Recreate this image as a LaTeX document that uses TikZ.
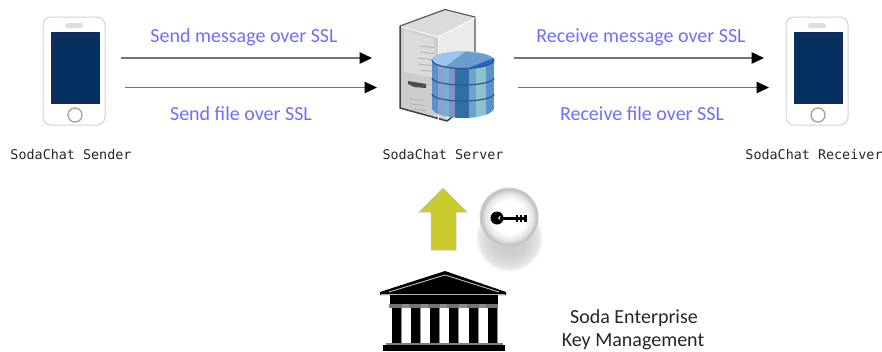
\documentclass[tikz,border=0pt]{standalone}
\usepackage{fontspec}
\setmainfont{Carlito}
\newfontfamily\capfont{DejaVu Sans Mono}
\usetikzlibrary{arrows.meta}
\definecolor{labelblue}{HTML}{6F6FFF}
\definecolor{screenblue}{HTML}{03305F}
\definecolor{phoneedge}{HTML}{D2D4D4}
\definecolor{olivey}{HTML}{C9CB2F}
\definecolor{dbtop}{HTML}{9CC4EC}
\definecolor{dbmid}{HTML}{6A9CCC}
\definecolor{dbwedge}{HTML}{2A62C8}
\definecolor{dbline}{HTML}{2F5590}
\pgfdeclareradialshading{ballshade}{\pgfpoint{0bp}{0bp}}{
  color(0bp)=(white); color(14bp)=(white); color(20bp)=(white!90!black);
  color(24bp)=(white!74!black); color(25bp)=(white!84!black); color(50bp)=(white!84!black)}
\pgfdeclareradialshading{shadowshade}{\pgfpoint{0bp}{0bp}}{
  color(0bp)=(white!78!black); color(14bp)=(white!82!black); color(22bp)=(white!90!black);
  color(25bp)=(white); color(50bp)=(white)}
\tikzset{
  msgtext/.style={font=\fontsize{20}{22}\selectfont, text=labelblue, inner sep=0pt},
  captext/.style={font=\capfont\fontsize{13.4}{15}\selectfont, text=black!85, inner sep=0pt},
  plaintext/.style={font=\fontsize{20}{22}\selectfont, text=black!85, inner sep=0pt},
  linkline/.style={draw=black!55, line width=1.4pt, -{Triangle[length=12.5pt,width=11.5pt,color=black]}},
  phonebody/.style={draw=phoneedge, fill=white, line width=1pt, rounded corners=8pt},
  columnbar/.style={fill=black},
  dbrim/.style={draw=dbline, line width=1.2pt},
}
\newcommand{\phoneat}[1]{%
  \begin{scope}[shift={(#1,0)}]
    \draw[phonebody] (0,17) rectangle (62,125);
    \fill[screenblue] (7.5,32) rectangle (57,104);
    \draw[draw=purple!18!screenblue, line width=.5pt] (9,36) rectangle (54,102);
    \fill[white!87!black, rounded corners=2.5pt] (22,23) rectangle (40,28);
    \draw[draw=black!35, line width=1.4pt, fill=white] (32,115) circle (7);
  \end{scope}}
\begin{document}
\begin{tikzpicture}[x=1pt,y=-1pt]
\useasboundingbox (0,0) rectangle (882,351);
% phones
\phoneat{43}
\phoneat{786}
\node[captext] (sender) at (71,155) {SodaChat Sender};
\node[captext] (server) at (443,155) {SodaChat Server};
\node[captext] (receiver) at (814,155) {SodaChat Receiver};
% server tower
\fill[white!86!black] (400,26) -- (445,9.5) -- (475,17) -- (438,37) -- cycle;
\fill[white!80!black] (400,26) -- (438,37) -- (447,121) -- (400,108) -- cycle;
\fill[white!86!black] (404,30) -- (434,39) -- (436,78) -- (404,72) -- cycle;
\fill[white!92!black] (438,37) -- (475,17) -- (475,100) -- (447,121) -- cycle;
\draw[black!65, line width=1.2pt, line join=round] (400,26) -- (445,9.5) -- (475,17) -- (475,60);
\draw[black!75, line width=1.5pt, line join=round] (400,26) -- (400,108) -- (447,121) -- (456,114);
\draw[white!97!black, line width=1pt] (401,27) -- (438,37) -- (475,18);
\draw[white!97!black, line width=.8pt] (438,37) -- (438,121);
\fill[black!70] (408,81) -- (426,84) -- (426,88) -- (414,87) -- (408,84) -- cycle;
\foreach \yy/\xx in {46/420,52/420,58/418,64/418,70/420,99/410,104/410,109/412}
  \draw[black!30, line width=.9pt] (\xx,\yy) -- +(14,1.5);
% database
\begin{scope}
  \clip (432,60) arc[start angle=180,end angle=360,x radius=31,y radius=8.5] -- (494,108)
        arc[start angle=0,end angle=180,x radius=31,y radius=10] -- cycle;
  \foreach \a/\b/\c in {432/438/5A90CC,438/444/8E9FD0,444/449/73B0D2,449/455/8392C6,455/469/2F6FA8,469/476/6AA4C6,476/486/8DC2CC,486/494/5A90CC}
    {\definecolor{stripe}{HTML}{\c}\fill[stripe] (\a,50) rectangle (\b,120);}
\end{scope}
\fill[dbtop] (432,60) arc[start angle=180,end angle=360,x radius=31,y radius=8.5] arc[start angle=0,end angle=180,x radius=31,y radius=8.5] -- cycle;
\fill[dbmid] (445,67) -- (465,52) arc[start angle=274,end angle=360,x radius=31,y radius=8.5] arc[start angle=0,end angle=115,x radius=31,y radius=8.5] -- cycle;
\fill[dbwedge] (467,68.5) -- (494,58) -- (494,60) arc[start angle=0,end angle=83,x radius=31,y radius=8.5] -- cycle;
\draw[dbrim] (432,60) arc[start angle=180,end angle=0,x radius=31,y radius=8.5];
\draw[dbrim] (432,78) arc[start angle=180,end angle=0,x radius=31,y radius=7];
\draw[dbrim] (432,94) arc[start angle=180,end angle=0,x radius=31,y radius=7];
% connectors
\coordinate (s1) at (121,58); \coordinate (e1) at (372,58);
\coordinate (s2) at (125,87.5); \coordinate (e2) at (377,87.5);
\coordinate (s3) at (514,58); \coordinate (e3) at (764,58);
\coordinate (s4) at (518,87.5); \coordinate (e4) at (769,87.5);
\draw[linkline] (s1) -- (e1);
\draw[linkline] (s2) -- (e2);
\draw[linkline] (s3) -- (e3);
\draw[linkline] (s4) -- (e4);
\node[msgtext] (m1) at (244,37) {Send message over SSL};
\node[msgtext] (m2) at (241,114) {Send file over SSL};
\node[msgtext] (m3) at (641,37) {Receive message over SSL};
\node[msgtext] (m4) at (642,114) {Receive file over SSL};
% up arrow
\fill[olivey, draw=white!75!black, line width=.5pt] (443,188) -- (467,212) -- (456,212) -- (456,250) -- (431,250) -- (431,212) -- (419,212) -- cycle;
% key ball
\shade[shading=shadowshade] (509,238) circle (34);
\shade[shading=ballshade] (509,217) circle (29.5);
\fill[black] (497,218) circle (6.5);
\fill[white] (500,218) circle (1.8);
\fill[black] (500,216.5) rectangle (527,220);
\fill[black] (516,215) rectangle (518,221.5);
\fill[black] (520,215) rectangle (522,221.5);
\fill[black] (524,215) rectangle (527,221.5);
% temple
\fill[black, line join=round] (445,271) -- (506,292) -- (506,295) -- (380,295) -- (380,292) -- cycle;
\draw[white!75!black, line width=.9pt] (389,292) -- (445,275) -- (499,292);
\draw[white!70!black, line width=.9pt] (381,294) -- (505,294);
\fill[black] (390,295) rectangle (498,304);
\fill[white!55!black] (389,304) rectangle (498,308);
\foreach \cx in {396,415,434,453,473,492} {
  \fill[black!55] (\cx-6,304) rectangle (\cx+6,308);
  \fill[columnbar] (\cx-4.5,308) rectangle (\cx+4.5,343);
  \fill[black!45] (\cx+4.5,308) rectangle (\cx+6,343);
}
\fill[white!50!black] (386,343) rectangle (503,345);
\fill[black] (383,345) rectangle (505,351);
\node[plaintext] (ent) at (634,318) {Soda Enterprise};
\node[plaintext] (kms) at (633,342) {Key Management};
\end{tikzpicture}
\end{document}
